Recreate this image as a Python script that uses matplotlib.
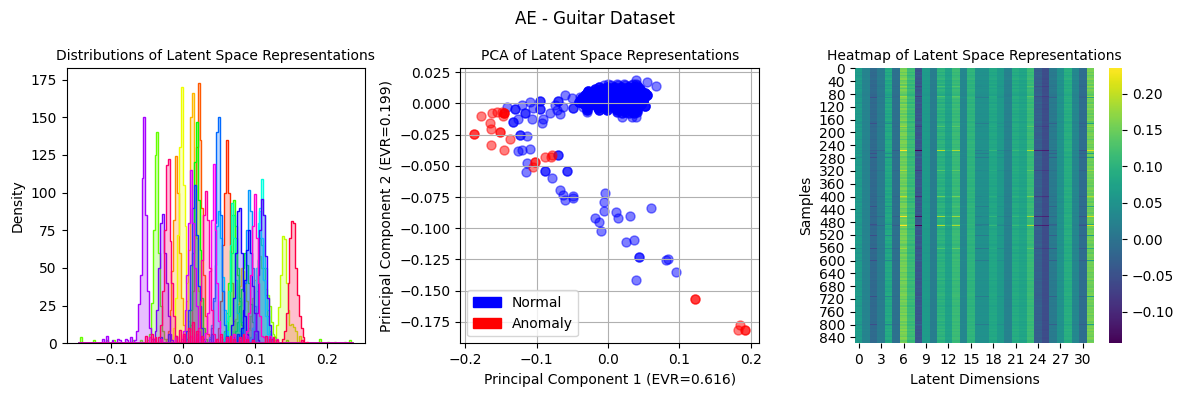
import numpy as np
import matplotlib
matplotlib.use('Agg')
import matplotlib.pyplot as plt
from matplotlib.patches import Patch

W, H = 1184, 396

# histogram of each latent dimension, heights read around the peak
bin_width = 0.0026
bin_start = -0.146
hist_peak_x = [0.059, 0.021, -0.012, 0.012, 0.08, -0.004, 0.137, 0.107, -0.036, 0.069, 0.018, 0.085, 0.07, 0.107, 0.0665, 0.11,
               0.105, 0.048, 0.09, 0.049, 0.016, 0.09, 0.078, 0.11, -0.03, -0.056, 0.011, 0.042, 0.098, 0.032, -0.022, 0.15]
hist_heights = [
    [3, 10, 28, 65, 100, 135, 100, 65, 40, 15, 5],
    [4, 12, 35, 72, 130, 173, 135, 90, 45, 18, 6],
    [3, 8, 22, 48, 82, 124, 100, 60, 30, 12, 4],
    [2, 9, 28, 62, 150, 166, 105, 70, 35, 12, 3],
    [3, 8, 16, 26, 38, 50, 48, 40, 28, 18, 9, 4],
    [3, 10, 30, 72, 130, 170, 105, 78, 40, 15, 4],
    [2, 5, 12, 24, 45, 71, 69, 40, 22, 12, 6, 2],
    [4, 10, 18, 30, 42, 50, 56, 58, 50, 42, 36, 32, 25, 14, 6, 2],
    [2, 6, 27, 75, 125, 140, 60, 25, 8, 3],
    [3, 8, 20, 40, 62, 85, 95, 70, 45, 28, 12, 5],
    [3, 8, 22, 60, 120, 147, 95, 62, 30, 10, 3],
    [3, 8, 14, 25, 36, 50, 60, 52, 40, 26, 14, 6],
    [3, 9, 18, 35, 60, 85, 78, 50, 30, 14, 5],
    [4, 10, 20, 35, 55, 70, 65, 50, 32, 18, 6],
    [2, 7, 15, 35, 65, 93, 70, 42, 20, 8, 2],
    [3, 10, 25, 55, 90, 109, 85, 50, 22, 7, 2],
    [3, 10, 22, 50, 80, 88, 70, 42, 18, 6, 2],
    [4, 12, 28, 52, 78, 88, 70, 44, 22, 8, 3],
    [2, 7, 18, 40, 75, 102, 88, 50, 25, 8, 2],
    [3, 10, 30, 80, 140, 150, 85, 35, 12, 3],
    [2, 8, 22, 52, 90, 105, 72, 38, 25, 10, 3],
    [3, 10, 22, 42, 62, 75, 60, 38, 20, 8, 2],
    [4, 12, 30, 60, 88, 90, 60, 35, 18, 6],
    [3, 8, 20, 45, 75, 96, 85, 58, 30, 12, 3],
    [3, 8, 22, 50, 80, 86, 60, 40, 18, 6, 2],
    [2, 8, 26, 45, 110, 150, 85, 35, 10, 3],
    [3, 8, 22, 45, 80, 115, 80, 50, 25, 8, 2],
    [2, 7, 20, 48, 82, 119, 75, 40, 15, 4],
    [2, 8, 20, 45, 78, 99, 70, 40, 18, 5],
    [3, 10, 28, 55, 85, 101, 82, 50, 22, 6],
    [4, 12, 35, 75, 118, 122, 68, 40, 18, 5],
    [3, 8, 20, 40, 70, 81, 80, 50, 32, 18, 10, 4],
]

# small bumps along the base line
tail_dim = [8, 8, 25, 30, 28, 6, 20]
tail_x = [
    [-0.143, -0.125, -0.105, -0.095, -0.08, -0.07, -0.06],
    [0.12, 0.128, 0.145, 0.19, 0.2, 0.212, 0.225, 0.231],
    [-0.11, -0.106, -0.098, -0.09, -0.087, -0.08, -0.076, -0.072, -0.04, 0.0, 0.02, 0.06, 0.09],
    [-0.05, -0.044, -0.038, -0.004, 0.002, 0.008, 0.014, 0.02, 0.026, 0.048, 0.054, 0.06, 0.066, 0.072, 0.078, 0.084, 0.09, 0.096, 0.114, 0.12, 0.126, 0.132, 0.165, 0.172],
    [-0.045, -0.03, -0.01, 0.0, 0.01, 0.02, 0.06, 0.066, 0.072, 0.078, 0.112, 0.12, 0.13],
    [0.146, 0.149, 0.152, 0.155, 0.158, 0.161],
    [-0.03, -0.02, -0.01, 0.04, 0.06, 0.07, 0.075, 0.12],
]
tail_h = [
    [4, 2, 2, 2, 1, 2, 2],
    [8, 4, 2, 3, 1, 1, 1, 2],
    [3, 5, 2, 3, 2, 3, 2, 4, 3, 5, 6, 4, 5],
    [5, 6, 4, 9, 6, 10, 14, 8, 5, 3, 6, 4, 5, 3, 4, 6, 3, 2, 5, 3, 4, 2, 2, 1],
    [4, 3, 4, 6, 5, 4, 3, 5, 6, 3, 4, 5, 3],
    [8, 11, 13, 11, 8, 5],
    [4, 6, 5, 6, 5, 4, 6, 4],
]

# PCA points
normal_x = [-0.141, -0.13, -0.13, -0.121, -0.133, -0.133, -0.126, -0.117, -0.117, -0.107, -0.109, -0.096, -0.096, -0.096, -0.096,
            -0.105, -0.091, -0.093, -0.081, -0.074, -0.07, -0.07, -0.072, -0.067, -0.06, -0.063, -0.051, -0.049, -0.049, -0.039,
            -0.035, -0.03, -0.124, -0.124, -0.113, -0.126, -0.12, -0.11, -0.113, -0.115, -0.089, -0.089, -0.07, -0.07, -0.058,
            -0.058, -0.079, -0.067, -0.063, -0.06, -0.049, -0.049, -0.004, -0.006, -0.005, -0.018, -0.012, -0.01, 0.011, 0.014,
            0.031, 0.06, 0.025, 0.036, 0.044, 0.044, 0.039, 0.081, 0.084, 0.095, 0.039, 0.054, 0.067]
normal_y = [-0.0027, -0.0045, -0.0045, -0.0013, -0.0147, -0.0147, -0.0128, -0.0075, -0.0075, -0.0128, 0.0013, 0.0021, 0.0021, -0.0048, -0.0048,
            -0.004, -0.0126, -0.016, -0.0075, -0.0013, 0.0021, 0.0021, -0.0053, -0.0086, 0.0067, -0.0027, 0.004, -0.004, -0.004, 0.0053,
            -0.0027, -0.0067, -0.0249, -0.0249, -0.0257, -0.0382, -0.0377, -0.0364, -0.0476, -0.0546, -0.0538, -0.0538, -0.0417, -0.0417, -0.0538,
            -0.0538, -0.0599, -0.0695, -0.0735, -0.077, -0.0741, -0.0754, -0.0717, -0.0792, -0.0861, -0.0917, -0.0947, -0.1019, -0.0867, -0.092,
            -0.0901, -0.0837, -0.1107, -0.1097, -0.1235, -0.1235, -0.1415, -0.1257, -0.1244, -0.1348, 0.0187, 0.0174, 0.0139]

# dense part of the normal cloud, one list of x per row
blob_y = [0.016, 0.0145, 0.013, 0.0115, 0.01, 0.0085, 0.007, 0.0055, 0.004, 0.0025, 0.001, -0.0005, -0.002, -0.0035, -0.005, -0.0065, -0.008, -0.0105]
blob_x = [
    [0.0, 0.012, 0.022, 0.035, 0.039],
    [-0.006, 0.004, 0.014, 0.024, 0.032, 0.04],
    [-0.012, -0.002, 0.008, 0.018, 0.028, 0.036, 0.042],
    [-0.018, -0.008, 0.002, 0.012, 0.022, 0.032, 0.04, 0.045],
    [-0.028, -0.018, -0.008, 0.002, 0.012, 0.022, 0.032, 0.04, 0.046],
    [-0.029, -0.02, -0.01, 0.0, 0.01, 0.02, 0.03, 0.038, 0.046, 0.052],
    [-0.032, -0.024, -0.014, -0.004, 0.006, 0.016, 0.026, 0.036, 0.044, 0.05, 0.055],
    [-0.034, -0.026, -0.016, -0.006, 0.004, 0.014, 0.024, 0.034, 0.044, 0.051],
    [-0.036, -0.028, -0.018, -0.008, 0.002, 0.012, 0.022, 0.032, 0.042, 0.05],
    [-0.038, -0.03, -0.02, -0.01, 0.0, 0.01, 0.02, 0.03, 0.04, 0.049],
    [-0.04, -0.03, -0.02, -0.01, 0.0, 0.01, 0.02, 0.03, 0.04, 0.048],
    [-0.034, -0.024, -0.014, -0.004, 0.006, 0.016, 0.026, 0.036, 0.046],
    [-0.028, -0.016, -0.004, 0.008, 0.018, 0.028, 0.038, 0.052],
    [-0.029, -0.014, -0.003, 0.01, 0.02, 0.03, 0.04],
    [-0.03, -0.012, -0.002, 0.012, 0.022, 0.032, 0.04],
    [0.013, 0.024, 0.033, 0.04],
    [0.02, 0.03, 0.037],
    [0.02, 0.033, 0.039],
]
blob_repeat = [1, 1, 3, 3, 4, 4, 4, 4, 4, 4, 4, 4, 4, 3, 3, 2, 2, 1]

anomaly_x = [-0.1785, -0.162, -0.155, -0.149, -0.146, -0.146, -0.146, -0.147, -0.166, -0.1636, -0.188, -0.188, -0.151, -0.151, -0.138,
             -0.1636, -0.146, -0.089, -0.08, -0.078, -0.102, -0.102, -0.1056, 0.1215, 0.1215, 0.185, 0.1827, 0.1925, 0.1925]
anomaly_y = [-0.0104, -0.0078, -0.0072, -0.0072, -0.008, -0.008, -0.008, -0.0099, -0.0158, -0.0201, -0.0246, -0.0246, -0.0227, -0.0227, -0.0286,
             -0.0337, -0.0377, -0.0428, -0.0428, -0.0417, -0.0473, -0.0473, -0.0508, -0.157, -0.157, -0.1773, -0.1819, -0.1819, -0.1819]

# heatmap: column levels, how strongly a column follows the row stripes
n_samples = 859
col_mean = [0.06, 0.025, -0.015, 0.012, 0.08, -0.005, 0.15, 0.11, -0.04, 0.06, 0.015, 0.095, 0.07, 0.11, 0.03, 0.10,
            0.045, 0.045, 0.08, 0.06, 0.022, 0.085, 0.075, 0.11, -0.03, -0.055, 0.01, 0.045, 0.09, 0.03, -0.01, 0.15]
band_load = [0.5, 0.2, 0.3, 0.2, 0.8, 0.2, 1.0, 0.7, -0.5, 0.3, 0.2, 0.7, 0.5, 0.5, 0.2, 0.4,
             0.3, 0.2, 0.4, 0.2, 0.3, 0.6, 0.5, 0.5, -0.4, -0.2, 0.3, 0.4, 0.5, 0.3, 0.2, 0.8]
band_shift = [0.005, 0.012, -0.006, 0.01, -0.012, 0.004, 0.016, -0.008, 0.0, 0.014, -0.01, 0.006, -0.014, 0.01, 0.002, -0.004,
              -0.016, 0.006, 0.012, -0.004, 0.008, -0.012, 0.018, 0.004, -0.008, 0.014, 0.0, 0.008, -0.01, 0.012, -0.006, 0.006,
              0.016, -0.012, 0.004, 0.01, -0.008, 0.014, 0.002, -0.014, 0.008, 0.012, -0.004, 0.006, -0.016, 0.008, 0.012, -0.002,
              0.006, -0.01, 0.012, 0.0, -0.006, 0.004, 0.01, -0.012, 0.002, 0.008, -0.004, 0.006, -0.008, 0.01, 0.0, 0.004,
              -0.006, 0.008, -0.002, 0.006, -0.008, 0.012, 0.002, -0.004, 0.008, -0.012, 0.006, 0.01, -0.004, 0.012, -0.006, 0.0,
              0.014, -0.008, 0.006, -0.014, 0.01, 0.004, 0.012, -0.01, 0.0, 0.008, -0.012, 0.006, 0.01, -0.004, 0.008, 0.002,
              -0.006, 0.012, -0.002, 0.008, -0.01, 0.006, 0.0, 0.012, -0.008, 0.004, 0.01, -0.006, 0.008, 0.0, -0.012, 0.006,
              0.012, -0.002, 0.004, -0.014, 0.008, 0.002, -0.006, 0.01, -0.004, 0.006, 0.0, 0.008, -0.006, 0.004, 0.01, -0.01,
              0.002, 0.006, -0.004, 0.012, -0.014, 0.004, 0.008, 0.0, -0.006, 0.01, 0.002, -0.008, 0.006, 0.012, -0.002, 0.004,
              -0.01, 0.008, 0.0, 0.006, -0.012, 0.01, 0.002, 0.006, -0.004, 0.012, -0.008, 0.004, 0.01, 0.014, -0.004, 0.012,
              -0.006, 0.01, 0.0, 0.016, -0.002, 0.012, 0.006, -0.004, 0.014, 0.008, -0.006, 0.01]
spike_rows = [56, 88, 180, 256, 318, 399, 461, 489, 560]
spike_size = [0.025, 0.03, 0.03, 0.09, 0.035, 0.05, 0.08, 0.09, 0.03]
spike_load = [-0.1, -0.05, -0.2, -0.3, 0.1, -0.3, 1.0, 0.1, -1.1, 0.05, -0.05, 1.1, 0.35, 0.85, 0.0, 0.0,
              -0.3, -0.15, 0.3, -0.3, -0.15, 0.3, 0.15, 0.85, -0.85, -0.65, -0.3, 0.05, 0.1, -0.1, -0.4, 0.75]
dip_rows = [60, 90, 172, 264, 277, 430, 485, 520, 562, 600, 712, 800]
dip_load = [-0.01, 0.0, -0.025, 0.0, -0.03, -0.005, 0.0, 0.0, 0.01, 0.0, 0.0, 0.0, 0.0, 0.005, 0.005, 0.0,
            -0.02, -0.02, 0.0, -0.01, 0.0, 0.0, 0.0, 0.0, 0.0, 0.0, -0.025, 0.0, -0.005, -0.005, -0.012, -0.05]

colors = [plt.get_cmap('hsv')((i + 1) / 33) for i in range(32)]

fig = plt.figure(figsize=(W / 100, H / 100), dpi=100)


def add_box(x0, x1, y0, y1):
    return fig.add_axes([x0 / W, (H - y1) / H, (x1 - x0) / W, (y1 - y0) / H])


ax1 = add_box(66.5, 365, 68.3, 343.3)
ax2 = add_box(460.3, 759.3, 68.3, 343.3)
ax3 = add_box(855, 1094, 68.3, 343.3)
cax = add_box(1109, 1122, 68.3, 343.3)

# left panel
n_bins = 147
edges = bin_start + bin_width * np.arange(n_bins + 1)
for d in range(32):
    h = np.zeros(n_bins)
    vals = hist_heights[d]
    i0 = int(round((hist_peak_x[d] - bin_start) / bin_width)) - int(np.argmax(vals))
    h[i0:i0 + len(vals)] = vals
    for t in range(len(tail_dim)):
        if tail_dim[t] == d:
            for x, v in zip(tail_x[t], tail_h[t]):
                i = int((x - bin_start) / bin_width)
                h[i] = max(h[i], v)
    ax1.stairs(h, edges, fill=True, color=colors[d], alpha=0.25, lw=0)
    ax1.stairs(h, edges, color=colors[d], lw=1)
ax1.set_xlim(-0.1618, 0.2528)
ax1.set_ylim(0, 182.5)
ax1.set_xticks([-0.1, 0.0, 0.1, 0.2])
ax1.set_title('Distributions of Latent Space Representations', fontsize=10, pad=6)
ax1.set_xlabel('Latent Values')
ax1.set_ylabel('Density')

# middle panel
px = list(normal_x)
py = list(normal_y)
for y, row, rep in zip(blob_y, blob_x, blob_repeat):
    for x in row:
        px.extend([x] * rep)
        py.extend([y] * rep)
ax2.scatter(px, py, c='blue', alpha=0.5, s=42)
ax2.scatter(anomaly_x, anomaly_y, c='red', alpha=0.5, s=42)
ax2.set_xlim(-0.207, 0.212)
ax2.set_ylim(-0.1923, 0.0282)
ax2.grid(True)
ax2.set_title('PCA of Latent Space Representations', fontsize=10, pad=6)
ax2.set_xlabel('Principal Component 1 (EVR=0.616)')
ax2.set_ylabel('Principal Component 2 (EVR=0.199)')
ax2.legend(handles=[Patch(color='blue', label='Normal'), Patch(color='red', label='Anomaly')], loc='lower left')

# right panel
band = np.repeat(band_shift, 5)[:n_samples]
band = np.concatenate([band, np.full(n_samples - len(band), band_shift[-1])])
matrix = np.array(col_mean) + np.outer(band, band_load)
for r, s in zip(spike_rows, spike_size):
    matrix[r:r + 3] = np.array(col_mean) + s * np.array(spike_load)
for r in dip_rows:
    matrix[r:r + 3] += np.array(dip_load) * 1.5
mesh = ax3.pcolormesh(np.arange(33), np.arange(n_samples + 1), matrix, cmap='viridis', vmin=-0.1434, vmax=0.2348)
ax3.set_ylim(n_samples, 0)
ax3.set_xticks(np.arange(0, 32, 3) + 0.5, [str(i) for i in range(0, 32, 3)])
ax3.set_yticks(np.arange(0, n_samples, 40) + 0.5, [str(i) for i in range(0, n_samples, 40)])
for s in ax3.spines.values():
    s.set_visible(False)
ax3.set_title('Heatmap of Latent Space Representations', fontsize=10, pad=6)
ax3.set_xlabel('Latent Dimensions')
ax3.set_ylabel('Samples')
cb = fig.colorbar(mesh, cax=cax)
cb.set_ticks([-0.1, -0.05, 0.0, 0.05, 0.1, 0.15, 0.2])
cb.outline.set_visible(False)

fig.suptitle('AE - Guitar Dataset', x=595 / W, y=1 - 19 / H, va='center', fontsize=12)
fig.savefig('out.png', dpi=100)
